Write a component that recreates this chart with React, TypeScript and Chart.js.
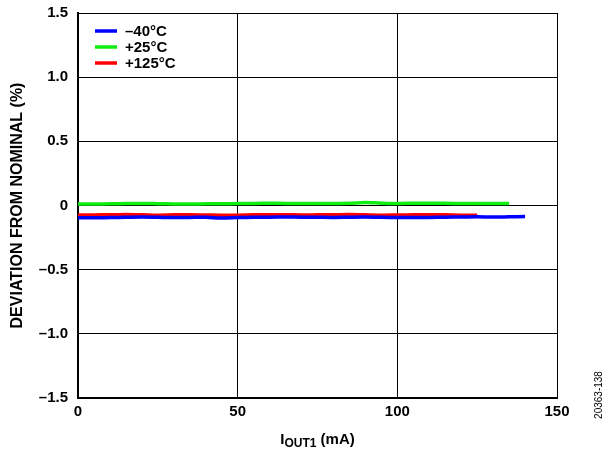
import React, { useEffect, useRef } from "react";
import { Chart, registerables } from "chart.js";

Chart.register(...registerables);

const currents40 = [0,5,10,15,20,25,30,35,40,45,50,55,60,65,70,75,80,85,90,95,100,105,110,115,120,125,130,135,140];
const valuesM40 = [-0.095,-0.096,-0.094,-0.092,-0.090,-0.092,-0.094,-0.093,-0.092,-0.098,-0.094,-0.092,-0.091,-0.090,-0.091,-0.092,-0.093,-0.091,-0.090,-0.092,-0.093,-0.094,-0.093,-0.091,-0.090,-0.088,-0.090,-0.088,-0.086];

const currents25 = [0,5,10,15,20,25,30,35,40,45,50,55,60,65,70,75,80,85,90,95,100,105,110,115,120,125,130,135];
const valuesP25 = [0.012,0.012,0.013,0.015,0.016,0.014,0.012,0.012,0.013,0.014,0.015,0.016,0.017,0.016,0.015,0.015,0.016,0.017,0.024,0.018,0.016,0.017,0.018,0.017,0.016,0.016,0.016,0.015];

const currents125 = [0,5,10,15,20,25,30,35,40,45,50,55,60,65,70,75,80,85,90,95,100,105,110,115,120,125];
const valuesP125 = [-0.075,-0.074,-0.072,-0.071,-0.072,-0.075,-0.073,-0.072,-0.074,-0.076,-0.075,-0.073,-0.072,-0.072,-0.074,-0.073,-0.072,-0.071,-0.073,-0.075,-0.074,-0.073,-0.072,-0.073,-0.075,-0.076];

const seriesLabels = ["\u201340\u00b0C", "+25\u00b0C", "+125\u00b0C"];
const seriesColors = ["#0000ff", "#11ee11", "#ff0000"];
const yTickLabels: Record<string, string> = {
  "1.5": "1.5", "1": "1.0", "0.5": "0.5", "0": "0", "-0.5": "\u20130.5", "-1": "\u20131.0", "-1.5": "\u20131.5",
};
const yTitle = "DEVIATION FROM NOMINAL (%)";
const xTitleMain = "I";
const xTitleSub = "OUT1";
const xTitleRest = " (mA)";
const figureId = "20363-138";

const FONT = "'Liberation Sans', Arial, sans-serif";

const toPts = (xs: number[], ys: number[]) => xs.map((x, i) => ({ x, y: ys[i] }));

const overlayPlugin = {
  id: "overlay",
  afterDraw(chart: any) {
    const ctx = chart.ctx;
    const area = chart.chartArea;
    ctx.save();
    // legend
    const lx = area.left + 17;
    const ly = area.top + 18;
    const step = 16;
    seriesLabels.forEach((lab, i) => {
      const y = ly + i * step;
      ctx.strokeStyle = seriesColors[i];
      ctx.lineWidth = 3.5;
      ctx.beginPath();
      ctx.moveTo(lx, y);
      ctx.lineTo(lx + 22, y);
      ctx.stroke();
      ctx.fillStyle = "#000";
      ctx.font = `bold 15px ${FONT}`;
      ctx.textAlign = "left";
      ctx.textBaseline = "middle";
      ctx.fillText(lab, lx + 30, y + 1);
    });
    // y title
    ctx.save();
    ctx.translate(18, (area.top + area.bottom) / 2);
    ctx.rotate(-Math.PI / 2);
    ctx.font = `bold 16px ${FONT}`;
    ctx.textAlign = "center";
    ctx.textBaseline = "middle";
    ctx.fillStyle = "#000";
    ctx.fillText(yTitle, 0, 0);
    ctx.restore();
    // x title
    const cx = (area.left + area.right) / 2;
    const ty = 444;
    ctx.font = `bold 15px ${FONT}`;
    const w1 = ctx.measureText(xTitleMain).width;
    const w3 = ctx.measureText(xTitleRest).width;
    ctx.font = `bold 12px ${FONT}`;
    const w2 = ctx.measureText(xTitleSub).width;
    let sx = cx - (w1 + w2 + w3) / 2;
    ctx.textAlign = "left";
    ctx.textBaseline = "alphabetic";
    ctx.fillStyle = "#000";
    ctx.font = `bold 15px ${FONT}`;
    ctx.fillText(xTitleMain, sx, ty);
    sx += w1;
    ctx.font = `bold 12px ${FONT}`;
    ctx.fillText(xTitleSub, sx, ty + 3);
    sx += w2;
    ctx.font = `bold 15px ${FONT}`;
    ctx.fillText(xTitleRest, sx, ty);
    // figure id
    ctx.save();
    ctx.translate(599, 395);
    ctx.rotate(-Math.PI / 2);
    ctx.font = `10px ${FONT}`;
    ctx.textAlign = "center";
    ctx.textBaseline = "middle";
    ctx.fillStyle = "#000";
    ctx.fillText(figureId, 0, 0);
    ctx.restore();
    ctx.restore();
  },
};

export default function App() {
  const ref = useRef<HTMLCanvasElement | null>(null);
  useEffect(() => {
    if (!ref.current) return;
    const chart = new Chart(ref.current, {
      type: "line",
      data: {
        datasets: [
          { label: seriesLabels[0], data: toPts(currents40, valuesM40), borderColor: seriesColors[0], borderWidth: 3.5, pointRadius: 0, tension: 0.3 },
          { label: seriesLabels[2], data: toPts(currents125, valuesP125), borderColor: seriesColors[2], borderWidth: 3.5, pointRadius: 0, tension: 0.3 },
          { label: seriesLabels[1], data: toPts(currents25, valuesP25), borderColor: seriesColors[1], borderWidth: 3.5, pointRadius: 0, tension: 0.3 },
        ],
      },
      options: {
        animation: false,
        responsive: false,
        devicePixelRatio: 1,
        layout: { padding: { top: 13, right: 53, left: 0, bottom: 0 } },
        plugins: { legend: { display: false }, tooltip: { enabled: false } },
        scales: {
          x: {
            type: "linear",
            min: 0,
            max: 150,
            afterFit: (s: any) => { s.height = 52; s.paddingLeft = 0; s.paddingRight = 0; },
            ticks: {
              stepSize: 50,
              padding: 5,
              color: "#000",
              font: { family: FONT, size: 15, weight: "bold" },
              maxRotation: 0,
            },
            grid: { color: "#000", lineWidth: 1, drawTicks: false },
            border: { color: "#000", width: 2 },
          },
          y: {
            type: "linear",
            min: -1.5,
            max: 1.5,
            afterFit: (s: any) => { s.width = 78; s.paddingTop = 0; s.paddingBottom = 0; },
            ticks: {
              stepSize: 0.5,
              padding: 10,
              color: "#000",
              font: { family: FONT, size: 15, weight: "bold" },
              callback: (v: any) => yTickLabels[String(Math.round(Number(v) * 10) / 10)] ?? String(v),
            },
            grid: { color: "#000", lineWidth: 1, drawTicks: false },
            border: { color: "#000", width: 2 },
          },
        },
      },
      plugins: [overlayPlugin],
    } as any);
    return () => chart.destroy();
  }, []);
  return (
    <div style={{ position: "absolute", left: 0, top: 0, width: 610, height: 450, background: "#fff" }}>
      <canvas ref={ref} width={610} height={450} style={{ width: 610, height: 450, display: "block" }} />
    </div>
  );
}
